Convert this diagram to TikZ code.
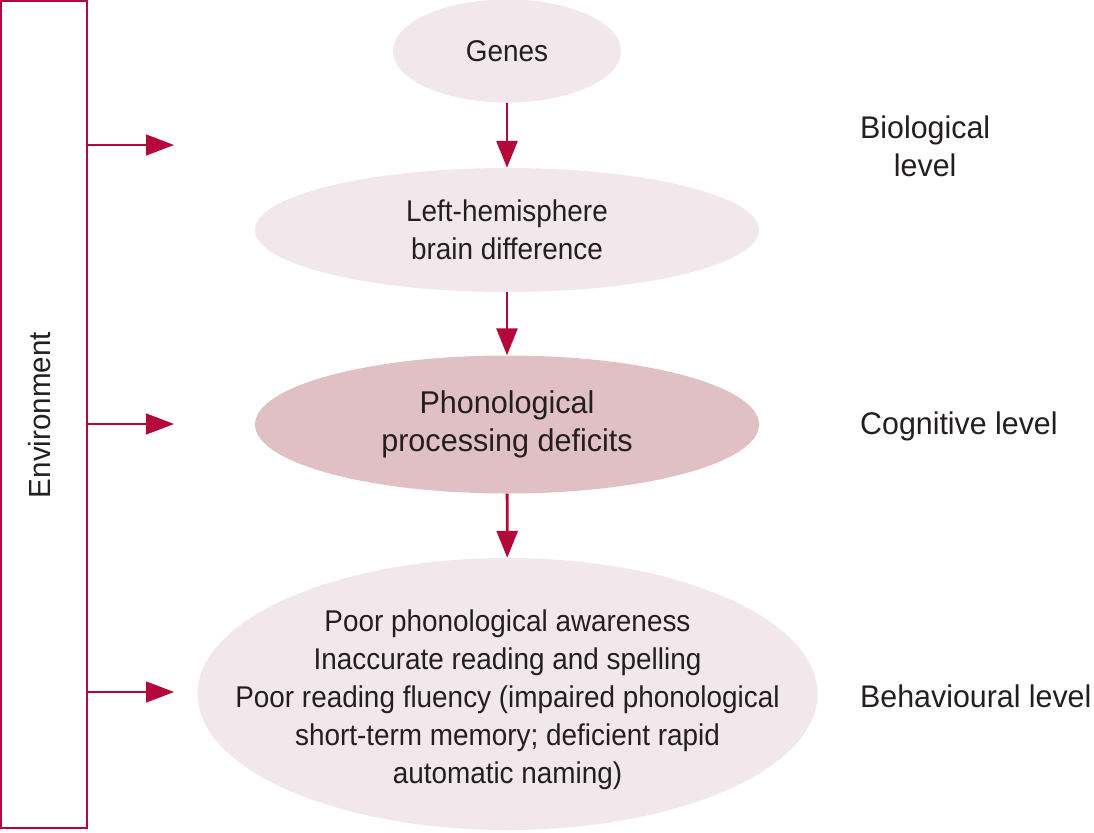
\documentclass[tikz,border=0pt]{standalone}
\usepackage{fontspec}
\setmainfont{Liberation Sans}[FakeStretch=0.93]
\newfontfamily\widefont{Liberation Sans}[FakeStretch=0.97]
\usetikzlibrary{shapes.geometric,arrows.meta}
\definecolor{lightfill}{RGB}{242,232,235}
\definecolor{darkfill}{RGB}{224,192,197}
\definecolor{accent}{RGB}{181,8,58}
\definecolor{txt}{RGB}{35,31,32}
\tikzset{
  oval/.style={ellipse,inner sep=0pt,draw=none,fill=lightfill,text=txt,align=center,
    font=\fontsize{30}{38}\selectfont},
  darkoval/.style={oval,fill=darkfill,font=\widefont\fontsize{31.5}{38}\selectfont},
  ovaltext/.style={inner sep=0pt,text=txt,align=center,font=\fontsize{30}{38}\selectfont},
  vlink/.style={draw=accent,line width=2.8pt,-{Triangle[length=27pt,width=21pt]}},
  hlink/.style={draw=accent,line width=1.3pt,-{Triangle[length=28pt,width=21pt]}},
  levellabel/.style={anchor=west,inner sep=0pt,text=txt,align=center,
    font=\widefont\fontsize{31.3}{38}\selectfont}
}
\begin{document}
\begin{tikzpicture}[x=1pt,y=-1pt]
\useasboundingbox (0,0) rectangle (1094,832);
% environment box
\node[draw=accent,line width=1.5pt,minimum width=86pt,minimum height=827pt,inner sep=0pt] (env) at (44,414.5) {};
\node[rotate=90,text=txt,font=\widefont\fontsize{30.5}{38}\selectfont,inner sep=0pt] (envtxt) at (40,415) {Environment};
% ovals
\node[oval,minimum width=228pt,minimum height=103pt] (genes) at (507,51) {Genes};
\node[oval,minimum width=504pt,minimum height=124pt] (brain) at (507,230) {Left-hemisphere\\brain difference};
\node[darkoval,minimum width=504pt,minimum height=138pt] (phon) at (507,424.5) {Phonological\\processing deficits};
\node[oval,minimum width=620pt,minimum height=272pt] (beh) at (507.5,694) {};
\node[ovaltext] (behtxt) at ([yshift=-6pt]beh.center) {Poor phonological awareness\\Inaccurate reading and spelling\\Poor reading fluency (impaired phonological\\short-term memory; deficient rapid\\automatic naming)};
% vertical arrows
\draw[vlink] (genes) -- (brain);
\draw[vlink] (brain) -- (phon);
\draw[vlink] (phon) -- (beh);
% horizontal arrows
\coordinate (h1) at (174,145);
\coordinate (h2) at (174,424);
\coordinate (h3) at (174,692);
\draw[hlink] (env.east |- h1) -- (h1);
\draw[hlink] (env.east |- h2) -- (h2);
\draw[hlink] (env.east |- h3) -- (h3);
% level labels
\node[levellabel] (bio) at (860,146) {Biological\\level};
\node[levellabel] (cog) at (860,426) {Cognitive level};
\node[levellabel] (behl) at (860,696) {Behavioural level};
\end{tikzpicture}
\end{document}
